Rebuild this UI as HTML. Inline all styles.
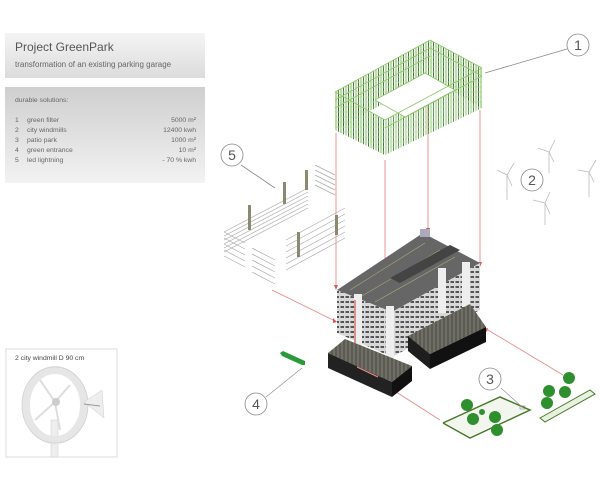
<!DOCTYPE html>
<html><head><meta charset="utf-8"><style>
html,body{margin:0;padding:0;background:#fff;}
svg{display:block;font-family:"Liberation Sans",sans-serif;}
</style></head><body>
<svg width="600" height="486" viewBox="0 0 600 486" xmlns="http://www.w3.org/2000/svg">
<defs>
<linearGradient id="g1" x1="0" y1="0" x2="0" y2="1"><stop offset="0" stop-color="#f4f4f4"/><stop offset="1" stop-color="#dcdcdc"/></linearGradient>
<linearGradient id="g2" x1="0" y1="0" x2="0" y2="1"><stop offset="0" stop-color="#cfcfcf"/><stop offset="1" stop-color="#f2f2f2"/></linearGradient>
<pattern id="gv" width="5" height="5" patternUnits="userSpaceOnUse"><line x1="1" y1="0" x2="1" y2="5" stroke="#8cc86a" stroke-width="1.1"/><line x1="3.5" y1="0" x2="3.5" y2="5" stroke="#2f6a2a" stroke-width="0.9"/><line x1="0" y1="2" x2="5" y2="2" stroke="#a8d890" stroke-width="0.6"/></pattern>
<pattern id="win" width="5" height="5" patternUnits="userSpaceOnUse"><rect width="5" height="5" fill="#d8d8d8"/><rect x="0.5" y="1" width="3.5" height="2" fill="#555"/></pattern>
<pattern id="park" width="4" height="4" patternUnits="userSpaceOnUse"><rect width="4" height="4" fill="#5a5a58"/><line x1="2" y1="0" x2="2" y2="4" stroke="#a8a070" stroke-width="0.6"/></pattern>
</defs>

<rect x="5" y="33" width="200" height="45" fill="url(#g1)"/>
<text x="15" y="51" font-size="12" fill="#555">Project GreenPark</text>
<text x="15" y="67" font-size="8" fill="#666">transformation of an existing parking garage</text>
<rect x="5" y="87" width="200" height="96" fill="url(#g2)"/>
<g font-size="6.8" fill="#666">
<text x="15" y="102">durable solutions:</text>
<text x="15" y="122">1</text><text x="27" y="122">green filter</text><text x="196" y="122" text-anchor="end">5000 m²</text>
<text x="15" y="132">2</text><text x="27" y="132">city windmills</text><text x="196" y="132" text-anchor="end">12400  kwh</text>
<text x="15" y="142">3</text><text x="27" y="142">patio park</text><text x="196" y="142" text-anchor="end">1000 m²</text>
<text x="15" y="152">4</text><text x="27" y="152">green entrance</text><text x="196" y="152" text-anchor="end">10 m²</text>
<text x="15" y="162">5</text><text x="27" y="162">led lightning</text><text x="196" y="162" text-anchor="end">- 70 % kwh</text>
</g>

<rect x="6" y="349" width="111" height="108" fill="#fff" stroke="#ddd"/>
<text x="15" y="360" font-size="6.8" fill="#444">2    city windmill  D 90 cm</text>
<rect x="51" y="420" width="7" height="37" fill="#eee" stroke="#ccc" stroke-width="0.5"/>
<ellipse cx="55" cy="405" rx="29" ry="35" fill="none" stroke="#e6e6e6" stroke-width="8"/>
<ellipse cx="55" cy="405" rx="33" ry="38" fill="none" stroke="#d0d0d0" stroke-width="0.8"/>
<g stroke="#ddd" stroke-width="2"><line x1="55" y1="402" x2="40" y2="380"/><line x1="55" y1="402" x2="35" y2="420"/><line x1="55" y1="402" x2="70" y2="385"/><line x1="55" y1="402" x2="60" y2="430"/></g>
<circle cx="56" cy="402" r="4" fill="#ccc"/>
<polygon points="84,402 102,390 104,418" fill="#eee" stroke="#ccc" stroke-width="0.5"/>
<line x1="84" y1="404" x2="100" y2="406" stroke="#999" stroke-width="1"/>

<g stroke="#e88a8a" stroke-width="0.9" fill="none">
<line x1="336" y1="133" x2="336" y2="285"/>
<line x1="385" y1="160" x2="385" y2="310"/>
<line x1="428" y1="93" x2="428" y2="228"/>
<line x1="480" y1="110" x2="480" y2="262"/>
<line x1="272" y1="290" x2="333" y2="320"/>
<line x1="563" y1="375" x2="488" y2="330"/>
<line x1="357" y1="367" x2="440" y2="420"/>
</g>
<g fill="#d55"><polygon points="334,285 338,285 336,290"/><polygon points="383,310 387,310 385,315"/><polygon points="426,228 430,228 428,233"/><polygon points="478,262 482,262 480,267"/><polygon points="333,318 333,323 337,322"/><polygon points="488,328 487,332 484,329"/></g>

<!-- green filter -->
<polygon points="335,92 430,40 430,78 335,130" fill="url(#gv)"/>
<polygon points="430,40 482,68 482,108 430,78" fill="url(#gv)"/>
<polygon points="335,92 385,120 385,155 335,130" fill="url(#gv)"/>
<polygon points="385,120 482,68 482,108 385,155" fill="url(#gv)" opacity="0.85"/>
<polygon points="375,100 425,73 455,90 405,117" fill="#fff"/>
<g stroke="#8dc56a" stroke-width="0.8" fill="none">
<line x1="335" y1="92" x2="430" y2="40"/><line x1="335" y1="100" x2="430" y2="48"/><line x1="335" y1="108" x2="430" y2="56"/>
<line x1="430" y1="40" x2="482" y2="68"/><line x1="430" y1="48" x2="482" y2="76"/>
<line x1="335" y1="92" x2="385" y2="120"/><line x1="385" y1="120" x2="482" y2="68"/><line x1="385" y1="128" x2="482" y2="76"/>
<polyline points="375,100 425,73 455,90 405,117 375,100"/>
</g>

<g stroke="#aaa" stroke-width="0.7" fill="none">
<path d="M224,232 L308,188 M224,236 L308,192 M224,240 L308,196 M224,244 L308,200 M224,248 L308,204 M224,252 L308,208"/>
<path d="M224,232 L245,243 M224,238 L245,249 M224,244 L245,255 M224,250 L245,261 M224,256 L245,267"/>
<path d="M252,248 L275,260 M252,254 L275,266 M252,260 L275,272 M252,266 L275,278 M252,272 L275,284"/>
<path d="M286,240 L345,208 M286,246 L345,214 M286,252 L345,220 M286,258 L345,226 M286,264 L345,232 M286,270 L345,238"/>
<path d="M315,165 L335,175 M315,170 L335,180 M315,175 L335,185 M315,180 L335,190 M315,185 L335,195"/>
</g>
<g fill="#8a8a70"><rect x="248" y="205" width="3" height="25"/><rect x="283" y="182" width="3" height="22"/><rect x="305" y="170" width="3" height="20"/><rect x="297" y="232" width="3" height="25"/><rect x="335" y="215" width="3" height="20"/></g>

<polygon points="337,290 423,233 480,263 392,312" fill="#666"/>
<g stroke="#b0a878" stroke-width="0.6"><line x1="350" y1="290" x2="425" y2="243"/><line x1="362" y1="296" x2="440" y2="250"/><line x1="375" y1="302" x2="455" y2="257"/></g>
<polygon points="390,278 450,245 460,250 400,283" fill="#444"/>
<polygon points="337,290 392,312 392,357 337,333" fill="url(#win)"/>
<polygon points="392,312 480,263 480,310 392,357" fill="url(#win)"/>
<rect x="354" y="294" width="8" height="54" fill="#eee"/><rect x="386" y="306" width="8" height="52" fill="#eee"/>
<rect x="438" y="268" width="8" height="45" fill="#eee"/><rect x="462" y="262" width="8" height="45" fill="#eee"/>
<line x1="355" y1="300" x2="355" y2="345" stroke="#c33" stroke-width="1"/>
<rect x="420" y="229" width="10" height="8" fill="#aab"/>
<polygon points="408,336 470,304 486,327 430,354" fill="url(#park)"/>
<polygon points="408,336 430,354 430,369 408,351" fill="#1e1e1e"/>
<polygon points="430,354 486,327 486,342 430,369" fill="#111"/>
<polygon points="328,353 345,339 412,366 392,382" fill="url(#park)"/>
<polygon points="328,353 392,382 392,397 328,368" fill="#222"/>
<polygon points="392,382 412,366 412,381 392,397" fill="#111"/>
<line x1="357" y1="367" x2="378" y2="377" stroke="#e88" stroke-width="1.2"/>

<polygon points="280,353 283,351 305,361 305,365 302,365 282,356" fill="#2a9a3a"/>
<line x1="302" y1="368" x2="266" y2="397" stroke="#888" stroke-width="0.6"/>

<polygon points="540,418 590,390 595,394 545,422" fill="#e8f0e0" stroke="#4a7a2a" stroke-width="1"/>
<polygon points="445,423 500,398 528,410 470,436" fill="#f3f6ee"/>
<polyline points="443,423 500,397 530,410 470,438 443,423" fill="none" stroke="#4a7a2a" stroke-width="1.5"/>
<g fill="#2f8f2f">
<circle cx="467" cy="405" r="6"/><circle cx="473" cy="419" r="6"/><circle cx="495" cy="417" r="6"/><circle cx="497" cy="430" r="6"/><circle cx="482" cy="412" r="3"/>
<circle cx="569" cy="378" r="6"/><circle cx="549" cy="391" r="6"/><circle cx="565" cy="392" r="6"/><circle cx="547" cy="403" r="6"/>
</g>
<line x1="501" y1="388" x2="522" y2="407" stroke="#888" stroke-width="0.6"/>
<rect x="520" y="406" width="5" height="3" fill="none" stroke="#888" stroke-width="0.6"/>

<g stroke="#bbb" stroke-width="0.8" fill="none">
<path d="M507,175 L507,200 M507,175 L497,170 M507,175 L514,163 M507,175 L512,186"/>
<path d="M549,152 L549,173 M549,152 L538,148 M549,152 L555,140 M549,152 L554,162"/>
<path d="M589,172 L589,197 M589,172 L578,170 M589,172 L596,160 M589,172 L594,182"/>
<path d="M545,203 L545,225 M545,203 L533,200 M545,203 L550,192 M545,203 L550,214"/>
</g>

<g fill="#fff" stroke="#888" stroke-width="0.8">
<line x1="567" y1="49" x2="485" y2="73"/>
<line x1="241" y1="165" x2="275" y2="188"/>
<circle cx="578" cy="45" r="11"/><circle cx="532" cy="180" r="11"/><circle cx="490" cy="379" r="11"/><circle cx="256" cy="404" r="11"/><circle cx="232" cy="155" r="11"/>
</g>
<g font-size="14" fill="#555" text-anchor="middle">
<text x="578" y="50">1</text><text x="532" y="185">2</text><text x="490" y="384">3</text><text x="256" y="409">4</text><text x="232" y="160">5</text>
</g>
</svg>
</body></html>
